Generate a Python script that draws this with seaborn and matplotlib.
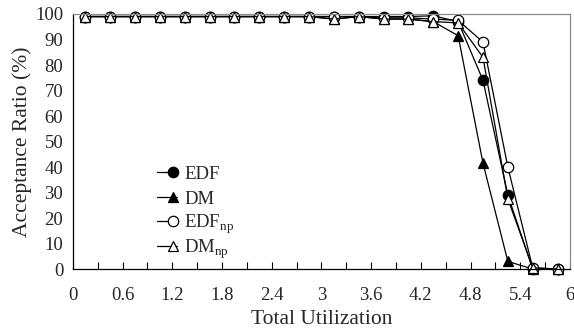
import numpy as np
import pandas as pd
import matplotlib
matplotlib.use("Agg")
import matplotlib.pyplot as plt
import seaborn as sns
from matplotlib.legend import Legend
from matplotlib.legend_handler import HandlerLine2D
from matplotlib.lines import Line2D
from matplotlib.ticker import MultipleLocator

utilization = [0.15, 0.45, 0.75, 1.05, 1.35, 1.65, 1.95, 2.25, 2.55, 2.85,
               3.15, 3.45, 3.75, 4.05, 4.35, 4.65, 4.95, 5.25, 5.55, 5.85]
edf    = [99, 99, 99, 99, 99, 99, 99, 99, 99, 99, 99, 99, 99, 99, 99.3, 97, 74, 29, 0, 0]
dm     = [99, 99, 99, 99, 99, 99, 99, 99, 99, 99, 98, 99, 98, 98, 97, 91.5, 41.5, 3, 0, 0]
edf_np = [99, 99, 99, 99, 99, 99, 99, 99, 99, 99, 99, 99, 98.5, 98.5, 98, 97.5, 89, 40, 0.5, 0]
dm_np  = [99, 99, 99, 99, 99, 99, 99, 99, 99, 99, 98, 99, 98, 98, 97, 96.5, 83, 27.5, 0.5, 0]

series_names = ["EDF", "DM", "EDF$_{\\mathregular{np}}$", "DM$_{\\mathregular{np}}$"]
series_values = [edf, dm, edf_np, dm_np]
markers = ["o", "^", "o", "^"]
faces = ["black", "black", "white", "white"]
x_tick_labels = ["0", "0.6", "1.2", "1.8", "2.4", "3", "3.6", "4.2", "4.8", "5.4", "6"]

sns.set_style("ticks")
plt.rcParams["font.family"] = ["Liberation Serif", "DejaVu Serif"]
plt.rcParams["mathtext.fontset"] = "custom"
plt.rcParams["mathtext.rm"] = "Liberation Serif"

fig = plt.figure(figsize=(5.74, 3.33), dpi=100)
ax = fig.add_axes([0.127, 0.192, 0.866, 0.766])

for name, vals, mk, fc in zip(series_names, series_values, markers, faces):
    df = pd.DataFrame({"u": utilization, "r": vals})
    sns.lineplot(data=df, x="u", y="r", ax=ax, color="black", linewidth=0.9,
                 marker=mk, markersize=7.5,
                 markerfacecolor=fc, markeredgecolor="black",
                 markeredgewidth=0.9, label=name, clip_on=False)

ax.set_xlim(0, 6)
ax.set_ylim(0, 100)
ax.xaxis.set_minor_locator(MultipleLocator(0.3))
ax.yaxis.set_major_locator(MultipleLocator(10))
ax.set_xticks(np.arange(0, 6.01, 0.6))
ax.set_xticklabels(x_tick_labels)
ax.tick_params(axis="x", which="both", direction="in", length=5, width=0.8,
               labelsize=13.5, pad=13, color="black")
ax.tick_params(axis="y", which="both", length=0, labelsize=13.5, pad=7)
ax.set_xlabel("Total Utilization", fontsize=15.5, labelpad=4)
ax.set_ylabel("Acceptance Ratio (%)", fontsize=15.5, labelpad=2)

for s in ["left", "bottom"]:
    ax.spines[s].set_color("black")
    ax.spines[s].set_linewidth(0.9)
for s in ["top", "right"]:
    ax.spines[s].set_visible(True)
    ax.spines[s].set_color("#8c8c8c")
    ax.spines[s].set_linewidth(0.9)


class EndMarkerHandler(HandlerLine2D):
    def create_artists(self, legend, orig_handle, xdescent, ydescent,
                       width, height, fontsize, trans):
        x0 = -xdescent
        x1 = -xdescent + width
        y = (height - ydescent) / 2
        line = Line2D([x0, x1], [y, y])
        self.update_prop(line, orig_handle, legend)
        line.set_marker("None")
        mark = Line2D([x0 + 0.8 * width], [y])
        self.update_prop(mark, orig_handle, legend)
        mark.set_linestyle("None")
        line.set_transform(trans)
        mark.set_transform(trans)
        return [line, mark]


handles, labels = ax.get_legend_handles_labels()
if ax.get_legend() is not None:
    ax.get_legend().remove()
row_y = [0.3725, 0.2745, 0.1765, 0.0784]
for h, lab, yy in zip(handles, labels, row_y):
    lg = Legend(ax, [h], [lab], loc="center left", bbox_to_anchor=(0.169, yy),
                frameon=False, fontsize=13.5, handlelength=1.05,
                handletextpad=0.4, borderpad=0.0, borderaxespad=0.0,
                numpoints=1, handler_map={h: EndMarkerHandler()})
    ax.add_artist(lg)

fig.savefig("out.png", dpi=100)
